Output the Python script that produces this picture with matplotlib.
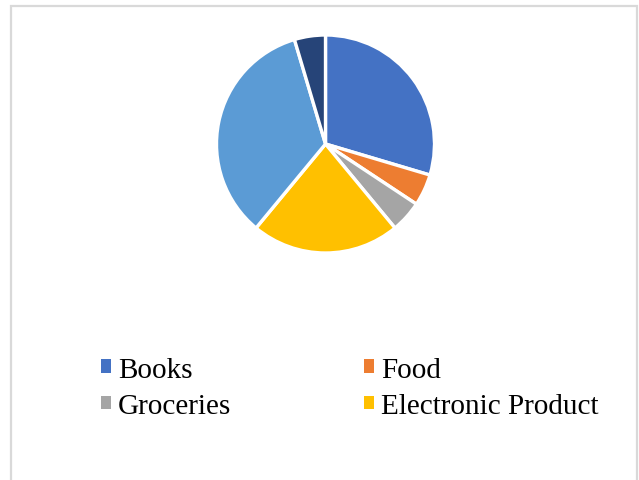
import matplotlib.pyplot as plt
from matplotlib.patches import Rectangle

categories = ["Books", "Food", "Groceries", "Electronic Product", "Other 1", "Other 2"]
shares = [29.6, 4.7, 4.7, 22.0, 34.4, 4.6]
colors = ["#4472C4", "#ED7D31", "#A5A5A5", "#FFC000", "#5B9BD5", "#264478"]
legend_order = [0, 2, 1, 3]  # row-major order for a 2-column legend, only 4 shown

W, H = 639, 481
fig = plt.figure(figsize=(W / 100, H / 100), dpi=100)
fig.patch.set_facecolor("white")

# light gray chart border (open at the bottom)
border = Rectangle((10.5 / W, -0.05), (637 - 10.5) / W, (481 - 6.5) / H + 0.05,
                   transform=fig.transFigure, fill=False, edgecolor="#D9D9D9",
                   linewidth=1.6)
fig.patches.append(border)

cx, cy, r = 325.5, 145, 109
ax = fig.add_axes([(cx - r) / W, (H - cy - r) / H, 2 * r / W, 2 * r / H])
wedges, _ = ax.pie(shares, colors=colors, startangle=90, counterclock=False,
                   radius=1, wedgeprops=dict(edgecolor="white", linewidth=2.4))
ax.set_xlim(-1, 1)
ax.set_ylim(-1, 1)
ax.set_aspect("equal")
ax.axis("off")

handles = [Rectangle((0, 0), 1, 1, facecolor=wedges[i].get_facecolor(), edgecolor="none")
           for i in legend_order]
labels = [categories[i] for i in legend_order]
leg = fig.legend(handles, labels, ncol=2,
                 loc="upper left", bbox_to_anchor=(86 / W, 1 - 343 / H),
                 frameon=False, prop={"family": "Liberation Serif", "size": 21},
                 handlelength=0.34, handleheight=0.34, handletextpad=0.25,
                 columnspacing=4.55, labelspacing=0.35, borderpad=0)

fig.savefig("out.png", dpi=100)
